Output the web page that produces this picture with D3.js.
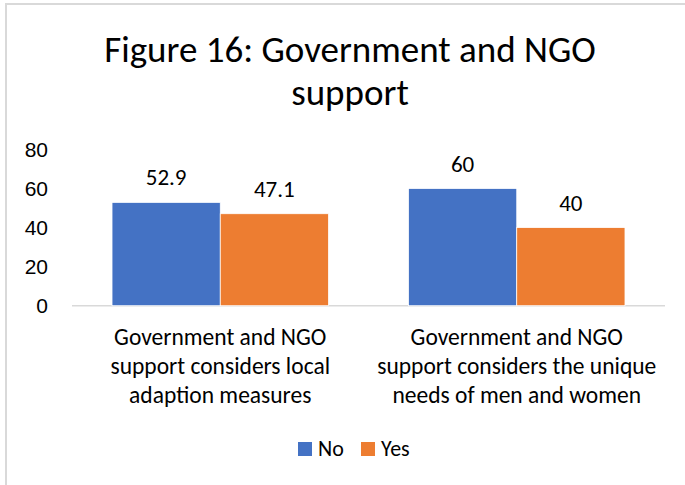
<!DOCTYPE html>
<html>
<head>
<meta charset="utf-8">
<script src="https://cdn.jsdelivr.net/npm/d3@7"></script>
<style>
  html, body { margin: 0; padding: 0; background: #fff; }
  svg { display: block; font-family: Carlito, Calibri, Lato, "Open Sans", sans-serif; }
</style>
</head>
<body>
<svg id="chart" width="685" height="485"></svg>
<script>
// Chart data
const categories = [
  ["Government and NGO", "support considers local", "adaption measures"],
  ["Government and NGO", "support considers the unique", "needs of men and women"]
];
const seriesNames = ["No", "Yes"];
const noValues = [52.9, 60];
const yesValues = [47.1, 40];
const yTicks = [0, 20, 40, 60, 80];
const titleLines = ["Figure 16: Government and NGO", "support"];
const colors = ["#4472C4", "#ED7D31"];

const svg = d3.select("#chart");
const W = 685, H = 485;

// Chart area border
svg.append("path")
  .attr("d", `M6,${H} L6,4 L${W},4`)
  .attr("fill", "none")
  .attr("stroke", "#d9d9d9")
  .attr("stroke-width", 2);

// Title
svg.append("g").selectAll("text")
  .data(titleLines)
  .join("text")
  .attr("x", 350)
  .attr("y", (d, i) => 62 + i * 43)
  .attr("text-anchor", "middle")
  .attr("font-size", 37)
  .attr("fill", "#000")
  .text(d => d);

const plot = { left: 72, right: 665, top: 149.5, bottom: 305.7 };

const x0 = d3.scaleBand()
  .domain(d3.range(categories.length))
  .range([plot.left, plot.right])
  .paddingInner(0.27)
  .paddingOuter(0.135);

const x1 = d3.scaleBand()
  .domain(d3.range(seriesNames.length))
  .range([0, x0.bandwidth()]);

const y = d3.scaleLinear().domain([0, 80]).range([plot.bottom, plot.top]);

// Y axis labels
const yAxis = d3.axisLeft(y).tickValues(yTicks).tickSize(0).tickPadding(0);
const yG = svg.append("g")
  .attr("transform", `translate(48,0)`)
  .call(yAxis);
yG.select(".domain").remove();
yG.selectAll("text")
  .attr("font-size", 21)
  .attr("font-family", null)
  .attr("fill", "#000");

// Baseline
svg.append("line")
  .attr("x1", plot.left).attr("x2", plot.right)
  .attr("y1", y(0)).attr("y2", y(0))
  .attr("stroke", "#d9d9d9")
  .attr("stroke-width", 1.5);

const rows = categories.map((c, i) => ({ i, values: [noValues[i], yesValues[i]] }));

const groups = svg.append("g").selectAll("g")
  .data(rows)
  .join("g")
  .attr("transform", d => `translate(${x0(d.i)},0)`);

groups.selectAll("rect")
  .data(d => d.values.map((v, s) => ({ v, s })))
  .join("rect")
  .attr("x", d => x1(d.s))
  .attr("width", x1.bandwidth())
  .attr("y", d => y(d.v))
  .attr("height", d => y(0) - y(d.v))
  .attr("fill", d => colors[d.s])
  .attr("stroke", "#fff")
  .attr("stroke-width", 0.75);

groups.selectAll("text.val")
  .data(d => d.values.map((v, s) => ({ v, s })))
  .join("text")
  .attr("class", "val")
  .attr("x", d => x1(d.s) + x1.bandwidth() / 2)
  .attr("y", d => y(d.v) - 17)
  .attr("text-anchor", "middle")
  .attr("font-size", 23)
  .attr("fill", "#000")
  .text(d => d.v);

// Category labels
groups.append("text")
  .attr("text-anchor", "middle")
  .attr("font-size", 23.5)
  .attr("fill", "#000")
  .selectAll("tspan")
  .data((d) => categories[d.i])
  .join("tspan")
  .attr("x", x0.bandwidth() / 2)
  .attr("y", (d, j) => 345 + j * 29)
  .text(d => d);

// Legend
const legend = svg.append("g");
const legendItems = [
  { name: seriesNames[0], color: colors[0], x: 298 },
  { name: seriesNames[1], color: colors[1], x: 361 }
];
const li = legend.selectAll("g").data(legendItems).join("g")
  .attr("transform", d => `translate(${d.x},442)`);
li.append("rect").attr("width", 14).attr("height", 14).attr("fill", d => d.color);
li.append("text")
  .attr("x", 20).attr("y", 14)
  .attr("font-size", 22)
  .attr("fill", "#000")
  .text(d => d.name);
</script>
</body>
</html>
